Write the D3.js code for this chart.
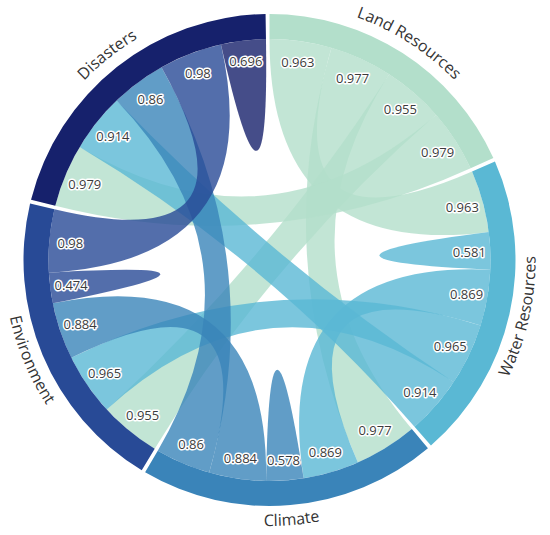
<!DOCTYPE html>
<html>
<head>
<meta charset="utf-8">
<script src="https://cdn.jsdelivr.net/npm/d3@7"></script>
<style>
  body { margin: 0; background: #fff; }
  svg { display: block; }
</style>
</head>
<body>
<svg id="chart" width="550" height="535"></svg>
<script>
// groups, in drawing order (clockwise from 12 o'clock)
const names = ["Land Resources", "Water Resources", "Climate", "Environment", "Disasters"];

// one row per group, columns in the same order as names
const landRow = [0, 0.963, 0.977, 0.955, 0.979];
const waterRow = [0.963, 0.581, 0.869, 0.965, 0.914];
const climateRow = [0.977, 0.869, 0.578, 0.884, 0.86];
const environmentRow = [0.955, 0.965, 0.884, 0.474, 0.98];
const disastersRow = [0.979, 0.914, 0.86, 0.98, 0.696];

const colors = ["#b3dfcb", "#5ab8d4", "#3a84b9", "#284a96", "#16216c"];

const matrix = [landRow, waterRow, climateRow, environmentRow, disastersRow];

let svg = d3.select("#chart");
const cx = 269.5, cy = 260;
const outerRadius = 246;
const innerRadius = 221;

let g = svg.append("g").attr("transform", `translate(${cx},${cy})`);

let chord = d3.chord().padAngle(0.016).sortSubgroups(null);
let chords = chord(matrix);

let arc = d3.arc().innerRadius(innerRadius).outerRadius(outerRadius);
let ribbon = d3.ribbon().radius(innerRadius);

// ribbons
g.append("g")
    .selectAll("path")
    .data(chords)
    .enter().append("path")
    .attr("d", ribbon)
    .style("fill", d => colors[d.source.index])
    .style("fill-opacity", 0.8);

// outer ring
g.append("g")
    .selectAll("path")
    .data(chords.groups)
    .enter().append("path")
    .attr("d", arc)
    .style("fill", (d, i) => colors[i]);

// value labels at each chord end
let ends = [];
chords.forEach(c => {
    ends.push(c.source);
    if (c.target !== c.source) ends.push(c.target);
});

const labelRadius = 200;
g.append("g")
    .selectAll("text")
    .data(ends)
    .enter().append("text")
    .attr("x", d => labelRadius * Math.sin((d.startAngle + d.endAngle) / 2))
    .attr("y", d => -labelRadius * Math.cos((d.startAngle + d.endAngle) / 2))
    .attr("text-anchor", "middle")
    .attr("dominant-baseline", "central")
    .style("font-family", "'Open Sans', sans-serif")
    .style("font-size", "13px")
    .style("fill", "#3c3c3c")
    .style("stroke", "#fff")
    .style("stroke-width", 3)
    .style("stroke-linejoin", "round")
    .style("paint-order", "stroke")
    .text(d => String(d.value));

// group names along the ring
function pt(r, a) {
    return [r * Math.sin(a), -r * Math.cos(a)];
}

let defs = svg.append("defs");
chords.groups.forEach((d, i) => {
    let mid = (d.startAngle + d.endAngle) / 2;
    let flip = mid > Math.PI / 2 && mid < Math.PI * 3 / 2;
    let r = flip ? outerRadius + 20 : outerRadius + 12;
    let a0 = mid - 0.6, a1 = mid + 0.6;
    let p0 = pt(r, a0), p1 = pt(r, a1);
    let dStr = flip
        ? `M${p1[0]},${p1[1]} A${r},${r} 0 0 0 ${p0[0]},${p0[1]}`
        : `M${p0[0]},${p0[1]} A${r},${r} 0 0 1 ${p1[0]},${p1[1]}`;
    defs.append("path").attr("id", "labelPath" + i).attr("d", dStr);
});

g.append("g")
    .selectAll("text")
    .data(chords.groups)
    .enter().append("text")
    .style("font-family", "'Open Sans', sans-serif")
    .style("font-size", "16px")
    .style("fill", "#333")
    .append("textPath")
    .attr("href", (d, i) => "#labelPath" + i)
    .attr("startOffset", "50%")
    .attr("text-anchor", "middle")
    .text((d, i) => names[i]);
</script>
</body>
</html>
